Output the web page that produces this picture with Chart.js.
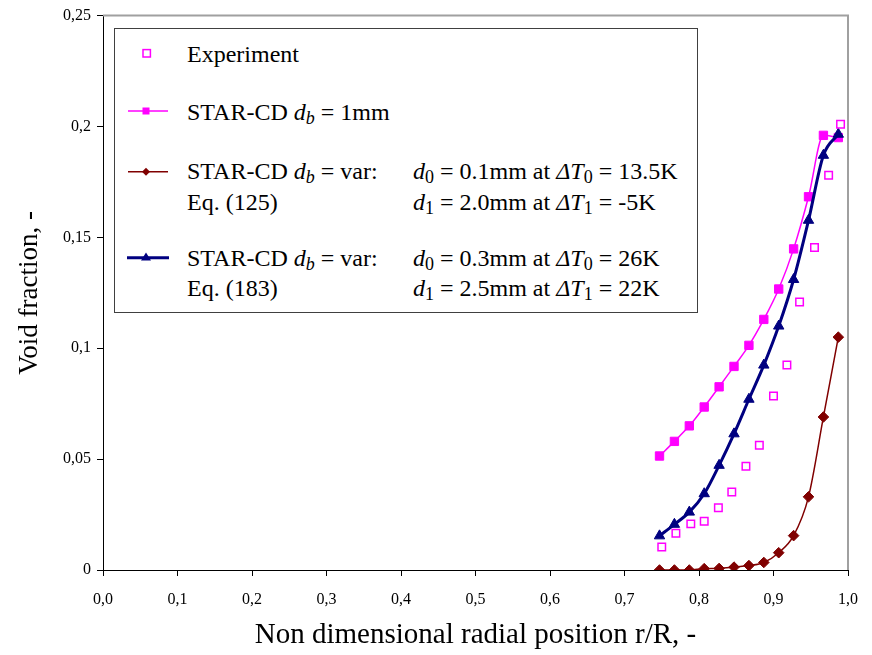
<!DOCTYPE html>
<html>
<head>
<meta charset="utf-8">
<script src="https://cdn.jsdelivr.net/npm/chart.js@4.4.0/dist/chart.umd.min.js"></script>
<style>
body { margin: 0; background: #fff; }
#wrap { position: relative; width: 872px; height: 655px; }
#legend { position: absolute; left: 0; top: 0; pointer-events: none; }
#legend text { font-family: "Liberation Serif", "Times New Roman", serif; font-size: 24px; fill: #000; }
</style>
</head>
<body>
<div id="wrap">
<canvas id="chart" width="872" height="655"></canvas>
<svg id="legend" width="872" height="655">
  <rect x="114.5" y="28.5" width="583" height="284" fill="#fff" stroke="#404040" stroke-width="1"/>

  <rect x="143" y="49.6" width="7.4" height="7.4" fill="#fff" stroke="#ff00ff" stroke-width="1.5"/>
  <text x="187" y="62">Experiment</text>

  <line x1="128" y1="111" x2="168" y2="111" stroke="#ff00ff" stroke-width="1.5"/>
  <rect x="142.5" y="107.5" width="7" height="7" fill="#ff00ff"/>
  <text x="187" y="120">STAR-CD <tspan font-style="italic">d</tspan><tspan font-style="italic" font-size="18" dy="4">b</tspan><tspan dy="-4"> = 1mm</tspan></text>

  <line x1="128" y1="171.7" x2="168" y2="171.7" stroke="#800000" stroke-width="1.5"/>
  <polygon points="146,167.7 150,171.7 146,175.7 142,171.7" fill="#800000"/>
  <text x="187" y="178.5">STAR-CD <tspan font-style="italic">d</tspan><tspan font-style="italic" font-size="18" dy="4">b</tspan><tspan dy="-4"> = var:</tspan></text>
  <text x="187" y="209.5">Eq. (125)</text>
  <text x="413" y="178.5"><tspan font-style="italic">d</tspan><tspan font-size="18" dy="4">0</tspan><tspan dy="-4"> = 0.1mm at </tspan><tspan font-style="italic">ΔT</tspan><tspan font-size="18" dy="4">0</tspan><tspan dy="-4"> = 13.5K</tspan></text>
  <text x="413" y="209.5"><tspan font-style="italic">d</tspan><tspan font-size="18" dy="4">1</tspan><tspan dy="-4"> = 2.0mm at </tspan><tspan font-style="italic">ΔT</tspan><tspan font-size="18" dy="4">1</tspan><tspan dy="-4"> = -5K</tspan></text>

  <line x1="127" y1="257.7" x2="169" y2="257.7" stroke="#000080" stroke-width="3"/>
  <polygon points="146,252.5 151,260.5 141,260.5" fill="#000080"/>
  <text x="187" y="266">STAR-CD <tspan font-style="italic">d</tspan><tspan font-style="italic" font-size="18" dy="4">b</tspan><tspan dy="-4"> = var:</tspan></text>
  <text x="187" y="296">Eq. (183)</text>
  <text x="413" y="266"><tspan font-style="italic">d</tspan><tspan font-size="18" dy="4">0</tspan><tspan dy="-4"> = 0.3mm at </tspan><tspan font-style="italic">ΔT</tspan><tspan font-size="18" dy="4">0</tspan><tspan dy="-4"> = 26K</tspan></text>
  <text x="413" y="296"><tspan font-style="italic">d</tspan><tspan font-size="18" dy="4">1</tspan><tspan dy="-4"> = 2.5mm at </tspan><tspan font-style="italic">ΔT</tspan><tspan font-size="18" dy="4">1</tspan><tspan dy="-4"> = 22K</tspan></text>
</svg>
</div>
<script>
// radial positions r/R
const simX = [0.747, 0.767, 0.787, 0.807, 0.827, 0.847, 0.867, 0.887, 0.907, 0.927, 0.947, 0.967, 0.987];
const expX = [0.750, 0.769, 0.789, 0.807, 0.826, 0.844, 0.863, 0.881, 0.900, 0.918, 0.935, 0.955, 0.974, 0.990];

// void fraction
const expY = [0.0104, 0.0166, 0.0208, 0.022, 0.0281, 0.0352, 0.0468, 0.0562, 0.0785, 0.0924, 0.1208, 0.1454, 0.178, 0.201];
const db1mm = [0.0514, 0.058, 0.065, 0.0735, 0.0826, 0.0918, 0.1013, 0.113, 0.1267, 0.1448, 0.1683, 0.196, 0.195];
const dbEq125 = [0, 0, 0, 0.0006, 0.0007, 0.0013, 0.002, 0.0034, 0.0078, 0.0155, 0.033, 0.069, 0.105];
const dbEq183 = [0.0154, 0.0206, 0.0261, 0.0344, 0.0472, 0.0614, 0.077, 0.0924, 0.11, 0.131, 0.1577, 0.187, 0.1965];

const xTickLabels = ["0,0", "0,1", "0,2", "0,3", "0,4", "0,5", "0,6", "0,7", "0,8", "0,9", "1,0"];
const yTickLabels = ["0", "0,05", "0,1", "0,15", "0,2", "0,25"];

const serif = "'Liberation Serif', 'Times New Roman', serif";

const pts = (xs, ys) => xs.map((x, i) => ({ x: x, y: ys[i] }));

// grey top / right edge of the plot area
const frame = {
    id: "frame",
    beforeDatasetsDraw(chart) {
        const { ctx, chartArea: a } = chart;
        ctx.save();
        ctx.strokeStyle = "#a0a0a0";
        ctx.lineWidth = 2;
        ctx.beginPath();
        ctx.moveTo(a.left, a.top);
        ctx.lineTo(a.right, a.top);
        ctx.lineTo(a.right, a.bottom);
        ctx.stroke();
        ctx.restore();
    },
};

new Chart(document.getElementById("chart"), {
    type: "scatter",
    data: {
        datasets: [
            {
                label: "Experiment",
                data: pts(expX, expY),
                showLine: false,
                pointStyle: "rect",
                pointRadius: 5.3,
                pointBorderWidth: 1.5,
                borderColor: "#ff00ff",
                backgroundColor: "#ffffff",
                order: 0,
            },
            {
                label: "STAR-CD db = 1mm",
                data: pts(simX, db1mm),
                showLine: true,
                cubicInterpolationMode: "monotone",
                borderWidth: 1.5,
                borderColor: "#ff00ff",
                backgroundColor: "#ff00ff",
                pointStyle: "rect",
                pointRadius: 5.9,
                pointBorderWidth: 1,
                order: 3,
            },
            {
                label: "STAR-CD db = var: Eq. (125)",
                data: pts(simX, dbEq125),
                showLine: true,
                cubicInterpolationMode: "monotone",
                borderWidth: 1.5,
                borderColor: "#800000",
                backgroundColor: "#800000",
                pointStyle: "rectRot",
                pointRadius: 5.3,
                pointBorderWidth: 1,
                order: 2,
            },
            {
                label: "STAR-CD db = var: Eq. (183)",
                data: pts(simX, dbEq183),
                showLine: true,
                cubicInterpolationMode: "monotone",
                borderWidth: 3,
                borderColor: "#000080",
                backgroundColor: "#000080",
                pointStyle: "triangle",
                pointRadius: 6,
                pointBorderWidth: 1,
                order: 1,
            },
        ],
    },
    options: {
        responsive: false,
        animation: false,
        layout: { padding: { top: 12, right: 18, left: 0, bottom: 0 } },
        plugins: {
            legend: { display: false },
            tooltip: { enabled: false },
        },
        scales: {
            x: {
                type: "linear",
                min: 0,
                max: 1,
                ticks: {
                    stepSize: 0.1,
                    autoSkip: false,
                    maxRotation: 0,
                    padding: 14,
                    color: "#000",
                    font: { family: serif, size: 16 },
                    callback: (v, i) => xTickLabels[i],
                },
                grid: { drawOnChartArea: false, drawTicks: true, tickLength: 6, color: "#000" },
                border: { display: true, color: "#000", width: 1 },
                title: {
                    display: true,
                    text: "Non dimensional radial position r/R, -",
                    color: "#000",
                    font: { family: serif, size: 29 },
                    padding: { top: 0, bottom: 2 },
                },
                afterFit: (s) => { s.height = 85; },
            },
            y: {
                min: 0,
                max: 0.25,
                ticks: {
                    stepSize: 0.05,
                    padding: 6,
                    color: "#000",
                    font: { family: serif, size: 16 },
                    callback: (v, i) => yTickLabels[i],
                },
                grid: { drawOnChartArea: false, drawTicks: true, tickLength: 6, color: "#000" },
                border: { display: true, color: "#000", width: 1 },
                title: {
                    display: true,
                    text: "Void fraction, -",
                    color: "#000",
                    font: { family: serif, size: 27 },
                    padding: { top: 14, bottom: 0 },
                },
                afterFit: (s) => { s.width = 103; },
            },
        },
    },
    plugins: [frame],
});
</script>
</body>
</html>
